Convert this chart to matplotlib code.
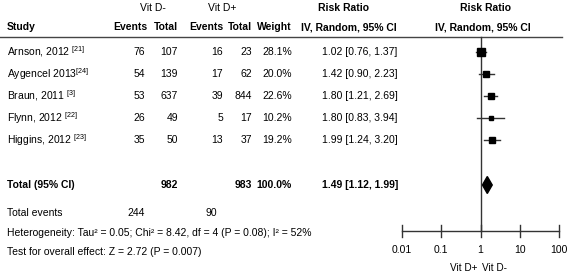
import numpy as np
import matplotlib
matplotlib.use('Agg')
import matplotlib.pyplot as plt

# study data
studies = ['Arnson, 2012 $^{[21]}$', 'Aygencel 2013$^{[24]}$', 'Braun, 2011 $^{[3]}$',
           'Flynn, 2012 $^{[22]}$', 'Higgins, 2012 $^{[23]}$']
events_neg = [76, 54, 53, 26, 35]
total_neg = [107, 139, 637, 49, 50]
events_pos = [16, 17, 39, 5, 13]
total_pos = [23, 62, 844, 17, 37]
weights = [28.1, 20.0, 22.6, 10.2, 19.2]
rr = [1.02, 1.42, 1.80, 1.80, 1.99]
rr_lo = [0.76, 0.90, 1.21, 0.83, 1.24]
rr_hi = [1.37, 2.23, 2.69, 3.94, 3.20]

pooled = (1.49, 1.12, 1.99)
pooled_totals = (982, 983)
pooled_events = (244, 90)
axis_ticks = [0.01, 0.1, 1, 10, 100]
axis_labels = ['0.01', '0.1', '1', '10', '100']

family = ['Liberation Sans', 'DejaVu Sans']
plt.rcParams['font.family'] = family
plt.rcParams['mathtext.fontset'] = 'custom'
plt.rcParams['mathtext.rm'] = 'Liberation Sans'
plt.rcParams['mathtext.it'] = 'Liberation Sans'
fs = 7.5

W, H = 567, 273
fig = plt.figure(figsize=(W / 100, H / 100), dpi=100)
ax = fig.add_axes([0, 0, 1, 1])
ax.set_xlim(0, W)
ax.set_ylim(H, 0)
ax.axis('off')


def txt(x, y, s, ha='left', bold=False, size=fs):
    ax.text(x, y, s, ha=ha, va='center', fontsize=size,
            fontweight='bold' if bold else 'normal')


# header
txt(153, 8, 'Vit D-', 'center')
txt(222, 8, 'Vit D+', 'center')
txt(343, 8, 'Risk Ratio', 'center', True)
txt(485, 8, 'Risk Ratio', 'center', True)
hy = 27
txt(7, hy, 'Study', bold=True)
txt(147, hy, 'Events', 'right', True)
txt(178, hy, 'Total', 'right', True)
txt(223, hy, 'Events', 'right', True)
txt(252, hy, 'Total', 'right', True)
txt(292, hy, 'Weight', 'right', True)
txt(349, hy, 'IV, Random, 95% CI', 'center', True)
txt(483, hy, 'IV, Random, 95% CI', 'center', True)
ax.plot([0, 562], [37, 37], color='#444444', lw=1)

row_y = [52, 74, 96, 118, 140]
for i, y in enumerate(row_y):
    txt(7, y, studies[i])
    txt(145, y, str(events_neg[i]), 'right')
    txt(178, y, str(total_neg[i]), 'right')
    txt(223, y, str(events_pos[i]), 'right')
    txt(252, y, str(total_pos[i]), 'right')
    txt(292, y, f'{weights[i]:.1f}%', 'right')
    txt(322, y, f'{rr[i]:.2f} [{rr_lo[i]:.2f}, {rr_hi[i]:.2f}]')

ty = 185
txt(7, ty, 'Total (95% CI)', bold=True)
txt(178, ty, str(pooled_totals[0]), 'right', True)
txt(252, ty, str(pooled_totals[1]), 'right', True)
txt(292, ty, '100.0%', 'right', True)
txt(322, ty, f'{pooled[0]:.2f} [{pooled[1]:.2f}, {pooled[2]:.2f}]', bold=True)

txt(7, 213, 'Total events')
txt(145, 213, str(pooled_events[0]), 'right')
txt(217, 213, str(pooled_events[1]), 'right')
txt(7, 233, 'Heterogeneity: Tau\u00b2 = 0.05; Chi\u00b2 = 8.42, df = 4 (P = 0.08); I\u00b2 = 52%')
txt(7, 252, 'Test for overall effect: Z = 2.72 (P = 0.007)')

# forest panel: log x from 0.01 to 100 spanning pixels 402..559
fx0, fx1 = 402, 559
fa = fig.add_axes([fx0 / W, 0, (fx1 - fx0) / W, 1])
fa.set_xscale('log')
fa.set_xlim(0.01, 100)
fa.set_ylim(H, 0)
fa.axis('off')
lc = '#333333'
axis_y = 231
fa.plot([1, 1], [37, axis_y], color=lc, lw=1)
fa.plot([0.01, 100], [axis_y, axis_y], color=lc, lw=1, clip_on=False)
for t, lab in zip(axis_ticks, axis_labels):
    fa.plot([t, t], [axis_y - 6, axis_y + 6], color=lc, lw=1, clip_on=False)
    fa.text(t, 250, lab, ha='center', va='center', fontsize=fs)
fa.text(0.83, 268, 'Vit D+', ha='right', va='center', fontsize=fs - 0.3)
fa.text(1.12, 268, 'Vit D-', ha='left', va='center', fontsize=fs - 0.3)

for i, y in enumerate(row_y):
    fa.plot([rr_lo[i], rr_hi[i]], [y, y], color=lc, lw=1)
    s = np.sqrt(weights[i] / max(weights)) * 5.5
    fa.plot(rr[i], y, marker='s', ms=s, color='black', mec='black', ls='none')

d_x = [pooled[1], pooled[0], pooled[2], pooled[0], pooled[1]]
d_y = [ty, ty - 8.5, ty, ty + 8.5, ty]
fa.fill(d_x, d_y, color='black')

fig.savefig('out.png', dpi=100)
